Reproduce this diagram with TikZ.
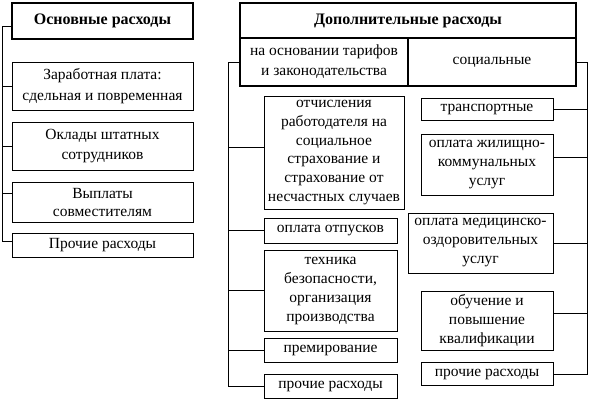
\documentclass[tikz,border=0pt]{standalone}
\usepackage{fontspec}
\setmainfont{Liberation Serif}
\begin{document}
\begin{tikzpicture}[x=1pt,y=-1pt]
    \useasboundingbox (0,0) rectangle (589,402);

    % headers
    \begin{scope}[every node/.style={rectangle, draw, line width=1.6pt, inner sep=0pt, align=center, font=\fontsize{16}{19}\selectfont\bfseries}]
        \node[minimum width=181pt, minimum height=36pt] (1) at (102.5,21) {Основные расходы};
        \node[minimum width=336pt, minimum height=35pt] (6) at (408,20.5) {Дополнительные расходы};
    \end{scope}
    \begin{scope}[every node/.style={rectangle, draw, line width=1.6pt, inner sep=0pt, align=center, minimum width=168pt, minimum height=48pt, font=\fontsize{15.5}{20}\selectfont}]
        \node (7) at (324,62) {на основании тарифов\\и законодательства};
        \node (8) at (492,62) {социальные};
    \end{scope}

    % left column
    \begin{scope}[every node/.style={rectangle, draw, line width=0.8pt, inner sep=0pt, align=center, minimum width=181pt, font=\fontsize{15.5}{21.5}\selectfont}]
        \node[minimum height=48pt] (2) at (102.5,86) {Заработная плата:\\сдельная и повременная};
        \node[minimum height=48pt, font=\fontsize{15.5}{19.5}\selectfont] (3) at (102.5,146) {Оклады штатных\\сотрудников};
        \node[minimum height=40pt, font=\fontsize{15.5}{18}\selectfont] (4) at (102.5,202) {Выплаты\\совместителям};
        \node[minimum height=24pt] (5) at (102.5,245.5) {Прочие расходы};
    \end{scope}

    % middle and right columns
    \begin{scope}[every node/.style={rectangle, draw, line width=0.8pt, inner sep=0pt, align=center, font=\fontsize{15.5}{19}\selectfont}]
        \node[minimum width=140pt, minimum height=113pt, font=\fontsize{15.5}{18.8}\selectfont] (9) at (334,152.5) {отчисления\\работодателя на\\социальное\\страхование и\\страхование от\\несчастных случаев};
        \node[minimum width=133pt, minimum height=25pt] (10) at (330.5,230.5) {оплата отпусков};
        \node[minimum width=133pt, minimum height=81pt] (11) at (330.5,290.5) {техника\\безопасности,\\организация\\производства};
        \node[minimum width=133pt, minimum height=24pt] (12) at (330.5,350) {премирование};
        \node[minimum width=133pt, minimum height=24pt] (13) at (330.5,386) {прочие расходы};

        \node[minimum width=132pt, minimum height=22pt] (14) at (487,109) {транспортные};
        \node[minimum width=132pt, minimum height=61pt] (15) at (487,164.5) {оплата жилищно-\\коммунальных\\услуг};
        \node[minimum width=145pt, minimum height=60pt] (16) at (480.5,243) {оплата медицинско-\\оздоровительных\\услуг};
        \node[minimum width=132pt, minimum height=59pt] (17) at (487,320.5) {обучение и\\повышение\\квалификации};
        \node[minimum width=132pt, minimum height=23pt] (18) at (487,374) {прочие расходы};
    \end{scope}

    \coordinate (l) at (2,241.5);
    \coordinate (m) at (228,386);
    \coordinate (r) at (587.5,374);

    \begin{scope}[line width=0.8pt, every edge/.style={draw, line width=0.8pt}]
        \draw ([yshift=-5pt]1.west) -| (l) -- ([yshift=4pt]5.west);
        \path [-] (2.west) edge ++(-10,0);
        \path [-] (3.west) edge ++(-10,0);
        \path [-] ([yshift=9pt]4.west) edge ++(-10,0);

        \draw (7.west) -| (m) -- (13.west);
        \path [-] ([yshift=5.5pt]9.west) edge ++(-36,0);
        \path [-] (10.west) edge ++(-36,0);
        \path [-] (11.west) edge ++(-36,0);
        \path [-] (12.west) edge ++(-36,0);

        \draw (8.east) -| (r) -- (18.east);
        \path [-] (14.east) edge ++(34.5,0);
        \path [-] ([yshift=7.5pt]15.east) edge ++(34.5,0);
        \path [-] (16.east) edge ++(34.5,0);
        \path [-] ([yshift=7.5pt]17.east) edge ++(34.5,0);
    \end{scope}
\end{tikzpicture}
\end{document}
